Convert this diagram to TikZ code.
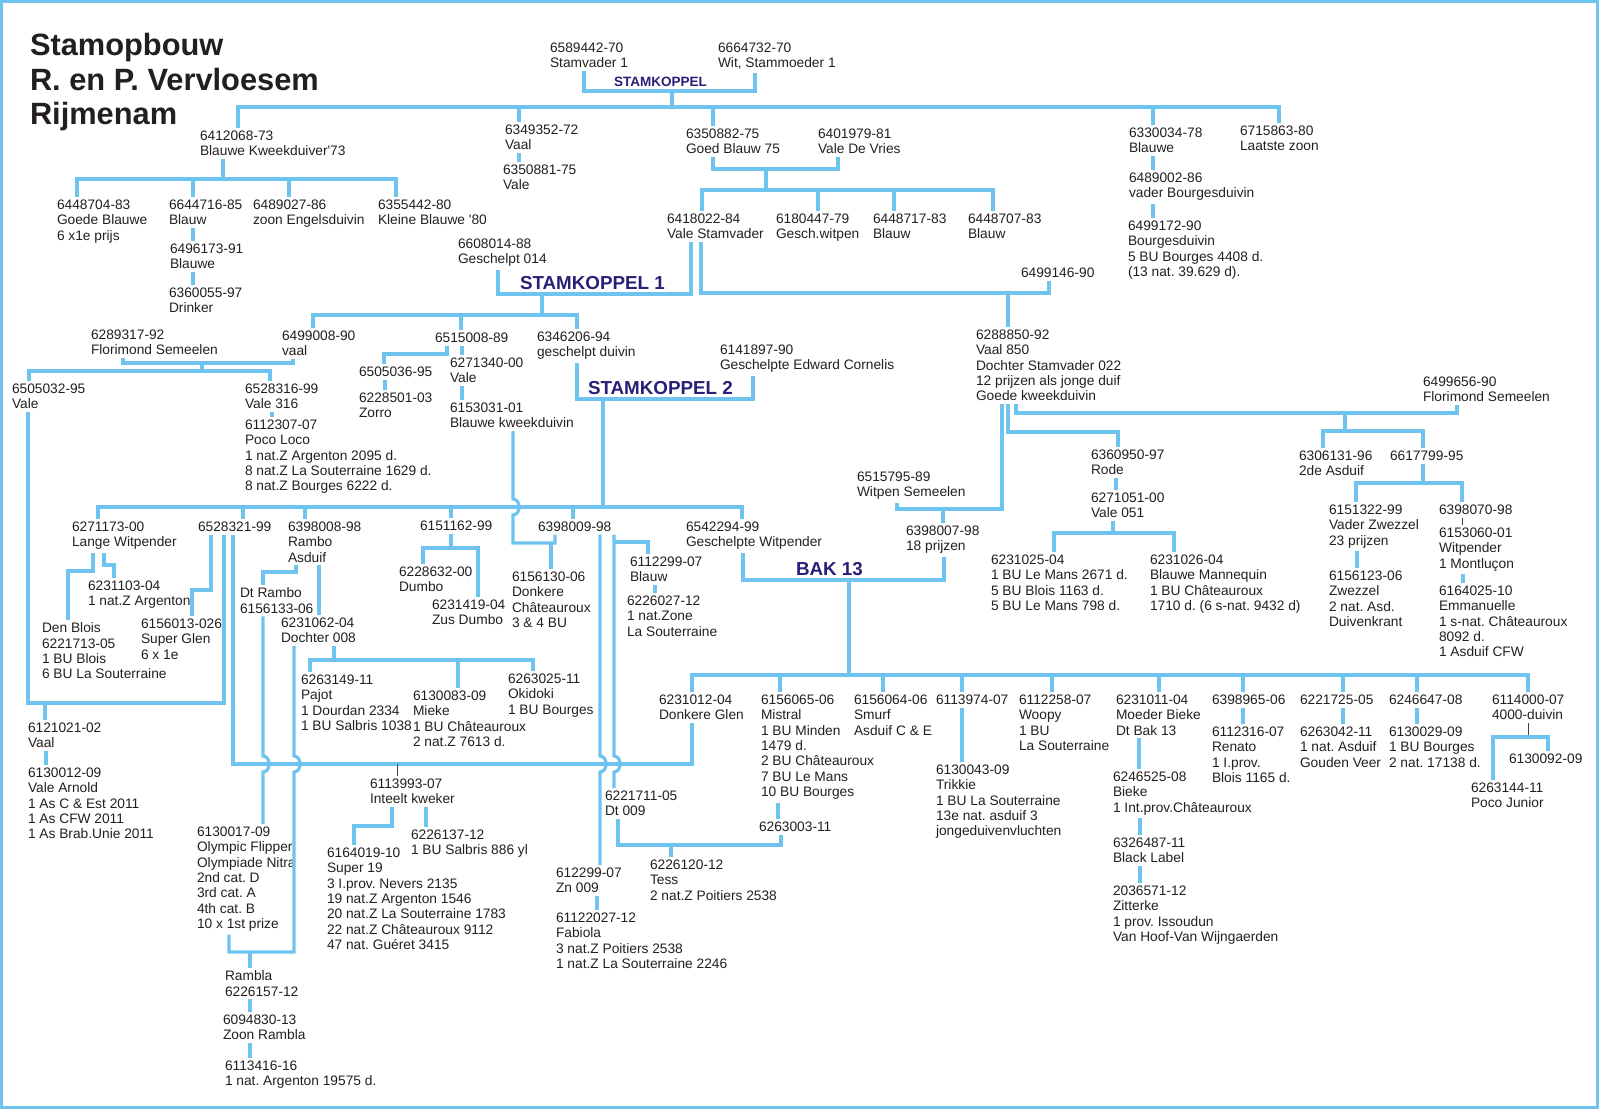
\documentclass[tikz,border=0pt]{standalone}
\usepackage{fontspec}
\setmainfont{Liberation Sans}
\frenchspacing

\definecolor{pedblue}{RGB}{110,196,238}
\definecolor{koppelblue}{RGB}{40,32,120}
\definecolor{inkgray}{RGB}{35,31,32}

\newcommand{\dvfont}{\fontsize{6.875pt}{7.67pt}\selectfont}
\newcommand{\titelfont}{\fontsize{15.4pt}{17.35pt}\selectfont\bfseries}
\newcommand{\koppelfont}{\fontsize{9.4pt}{11pt}\selectfont\bfseries}
\newcommand{\kleinkoppelfont}{\fontsize{6.75pt}{8pt}\selectfont\bfseries}

\begin{document}
\begin{tikzpicture}[
    x=0.5pt, y=-0.5pt,
    dv/.style={anchor=north west, inner sep=0pt, outer xsep=0pt, outer ysep=1.5pt, align=left, font=\dvfont, text=inkgray},
    titel/.style={anchor=north west, inner sep=0pt, outer sep=0pt, align=left, font=\titelfont, text=inkgray},
    koppel/.style={anchor=north west, inner sep=0pt, outer sep=0pt, font=\koppelfont, text=koppelblue},
    ln/.style={draw=pedblue, line width=1.6pt},
    tick/.style={draw=inkgray!85, line width=0.5pt}
]
\useasboundingbox (0,0) rectangle (1600,1109);
\draw[ln, line width=1.6pt] (1.5,1.5) rectangle (1597.5,1107.5);

% Title
\node[titel] (titel) at (30,33) {Stamopbouw\\R. en P. Vervloesem\\Rijmenam};

% Stamkoppel
\node[dv] (sv1) at (550,40) {6589442-70\\Stamvader 1};
\node[dv] (sm1) at (718,40) {6664732-70\\Wit, Stammoeder 1};
\node[koppel, font=\kleinkoppelfont] (sk0) at (614,77) {STAMKOPPEL};

% Children of the stamkoppel
\node[dv] (a1) at (200,128) {6412068-73\\Blauwe Kweekduiver\textquotesingle 73};
\node[dv] (b1) at (505,122) {6349352-72\\Vaal};
\node[dv] (b2) at (503,162) {6350881-75\\Vale};
\node[dv] (c1) at (686,126) {6350882-75\\Goed Blauw 75};
\node[dv] (c2) at (818,126) {6401979-81\\Vale De Vries};
\node[dv] (d1) at (1129,125) {6330034-78\\Blauwe};
\node[dv] (d2) at (1129,170) {6489002-86\\vader Bourgesduivin};
\node[dv] (d3) at (1128,218) {6499172-90\\Bourgesduivin\\5 BU Bourges 4408 d.\\(13 nat. 39.629 d).};
\node[dv] (e1) at (1240,123) {6715863-80\\Laatste zoon};

% Line of 6412068-73
\node[dv] (a11) at (57,197) {6448704-83\\Goede Blauwe\\6 x1e prijs};
\node[dv] (a12) at (169,197) {6644716-85\\Blauw};
\node[dv] (a121) at (170,241) {6496173-91\\Blauwe};
\node[dv] (a122) at (169,285) {6360055-97\\Drinker};
\node[dv] (a13) at (253,197) {6489027-86\\zoon Engelsduivin};
\node[dv] (a14) at (378,197) {6355442-80\\Kleine Blauwe \textquotesingle 80};

% Line of 6350882-75 x 6401979-81
\node[dv] (c11) at (667,211) {6418022-84\\Vale Stamvader};
\node[dv] (c12) at (776,211) {6180447-79\\Gesch.witpen};
\node[dv] (c13) at (873,211) {6448717-83\\Blauw};
\node[dv] (c14) at (968,211) {6448707-83\\Blauw};

% Stamkoppel 1 and 6499146-90
\node[dv] (g1) at (458,236) {6608014-88\\Geschelpt 014};
\node[koppel] (sk1) at (520,276) {STAMKOPPEL 1};
\node[dv] (h1) at (1021,265) {6499146-90};
\node[dv] (h2) at (976,327) {6288850-92\\Vaal 850\\Dochter Stamvader 022\\12 prijzen als jonge duif\\Goede kweekduivin};

% Children of stamkoppel 1
\node[dv] (i1) at (91,327) {6289317-92\\Florimond Semeelen};
\node[dv] (i2) at (282,328) {6499008-90\\vaal};
\node[dv] (i3) at (435,330) {6515008-89};
\node[dv] (i4) at (537,329) {6346206-94\\geschelpt duivin};
\node[dv] (i31) at (359,364) {6505036-95};
\node[dv] (i311) at (359,390) {6228501-03\\Zorro};
\node[dv] (i32) at (450,355) {6271340-00\\Vale};
\node[dv] (i321) at (450,400) {6153031-01\\Blauwe kweekduivin};
\node[dv] (j1) at (720,342) {6141897-90\\Geschelpte Edward Cornelis};
\node[koppel] (sk2) at (588,381) {STAMKOPPEL 2};

\node[dv] (k1) at (12,381) {6505032-95\\Vale};
\node[dv] (k2) at (245,381) {6528316-99\\Vale 316};
\node[dv] (k21) at (245,417) {6112307-07\\Poco Loco\\1 nat.Z Argenton 2095 d.\\8 nat.Z La Souterraine 1629 d.\\8 nat.Z Bourges 6222 d.};

% Children of stamkoppel 2
\node[dv] (m1) at (72,519) {6271173-00\\Lange Witpender};
\node[dv] (m2) at (198,519) {6528321-99};
\node[dv] (m3) at (288,519) {6398008-98\\Rambo\\Asduif};
\node[dv] (m4) at (420,518) {6151162-99};
\node[dv] (m5) at (538,519) {6398009-98};
\node[dv] (m6) at (686,519) {6542294-99\\Geschelpte Witpender};
\node[dv] (m11) at (88,578) {6231103-04\\1 nat.Z Argenton};
\node[dv] (m12) at (42,620) {Den Blois\\6221713-05\\1 BU Blois\\6 BU La Souterraine};
\node[dv] (m21) at (141,616) {6156013-026\\Super Glen\\6 x 1e};
\node[dv] (m31) at (240,585) {Dt Rambo\\6156133-06};
\node[dv] (m32) at (281,615) {6231062-04\\Dochter 008};
\node[dv] (m321) at (301,672) {6263149-11\\Pajot\\1 Dourdan 2334\\1 BU Salbris 1038};
\node[dv] (m322) at (413,688) {6130083-09\\Mieke\\1 BU Châteauroux\\2 nat.Z 7613 d.};
\node[dv] (m323) at (508,671) {6263025-11\\Okidoki\\1 BU Bourges};
\node[dv] (m41) at (399,564) {6228632-00\\Dumbo};
\node[dv] (m42) at (432,597) {6231419-04\\Zus Dumbo};
\node[dv] (m51) at (512,569) {6156130-06\\Donkere\\Châteauroux\\3 \& 4 BU};
\node[dv] (m52) at (630,554) {6112299-07\\Blauw};
\node[dv] (m521) at (627,593) {6226027-12\\1 nat.Zone\\La Souterraine};

% Bak 13
\node[dv] (p1) at (857,469) {6515795-89\\Witpen Semeelen};
\node[dv] (p2) at (906,523) {6398007-98\\18 prijzen};
\node[koppel] (bak) at (796,562) {BAK 13};

\node[dv] (q1) at (1091,447) {6360950-97\\Rode};
\node[dv] (q2) at (1091,490) {6271051-00\\Vale 051};
\node[dv] (q21) at (991,552) {6231025-04\\1 BU Le Mans 2671 d.\\5 BU Blois 1163 d.\\5 BU Le Mans 798 d.};
\node[dv] (q22) at (1150,552) {6231026-04\\Blauwe Mannequin\\1 BU Châteauroux\\1710 d. (6 s-nat. 9432 d)};

\node[dv] (r1) at (1423,374) {6499656-90\\Florimond Semeelen};
\node[dv] (r2) at (1299,448) {6306131-96\\2de Asduif};
\node[dv] (r3) at (1390,448) {6617799-95};
\node[dv] (r31) at (1329,502) {6151322-99\\Vader Zwezzel\\23 prijzen};
\node[dv] (r311) at (1329,568) {6156123-06\\Zwezzel\\2 nat. Asd.\\Duivenkrant};
\node[dv] (r32) at (1439,502) {6398070-98};
\node[dv] (r321) at (1439,525) {6153060-01\\Witpender\\1 Montluçon};
\node[dv] (r322) at (1439,583) {6164025-10\\Emmanuelle\\1 s-nat. Châteauroux\\8092 d.\\1 Asduif CFW};

% Children of bak 13
\node[dv] (s1) at (659,692) {6231012-04\\Donkere Glen};
\node[dv] (s2) at (761,692) {6156065-06\\Mistral\\1 BU Minden\\1479 d.\\2 BU Châteauroux\\7 BU Le Mans\\10 BU Bourges};
\node[dv] (s3) at (854,692) {6156064-06\\Smurf\\Asduif C \& E};
\node[dv] (s4) at (936,692) {6113974-07};
\node[dv] (s41) at (936,762) {6130043-09\\Trikkie\\1 BU La Souterraine\\13e nat. asduif 3\\jongeduivenvluchten};
\node[dv] (s5) at (1019,692) {6112258-07\\Woopy\\1 BU\\La Souterraine};
\node[dv] (s6) at (1116,692) {6231011-04\\Moeder Bieke\\Dt Bak 13};
\node[dv] (s61) at (1113,769) {6246525-08\\Bieke\\1 Int.prov.Châteauroux};
\node[dv] (s62) at (1113,835) {6326487-11\\Black Label};
\node[dv] (s63) at (1113,883) {2036571-12\\Zitterke\\1 prov. Issoudun\\Van Hoof-Van Wijngaerden};
\node[dv] (s7) at (1212,692) {6398965-06};
\node[dv] (s71) at (1212,724) {6112316-07\\Renato\\1 I.prov.\\Blois 1165 d.};
\node[dv] (s8) at (1300,692) {6221725-05};
\node[dv] (s81) at (1300,724) {6263042-11\\1 nat. Asduif\\Gouden Veer};
\node[dv] (s9) at (1389,692) {6246647-08};
\node[dv] (s91) at (1389,724) {6130029-09\\1 BU Bourges\\2 nat. 17138 d.};
\node[dv] (s10) at (1492,692) {6114000-07\\4000-duivin};
\node[dv] (s101) at (1509,751) {6130092-09};
\node[dv] (s102) at (1471,780) {6263144-11\\Poco Junior};
\node[dv] (s21) at (759,819) {6263003-11};

% Lower generations
\node[dv] (t1) at (28,720) {6121021-02\\Vaal};
\node[dv] (t11) at (28,765) {6130012-09\\Vale Arnold\\1 As C \& Est 2011\\1 As CFW 2011\\1 As Brab.Unie 2011};
\node[dv] (u1) at (370,776) {6113993-07\\Inteelt kweker};
\node[dv] (u11) at (411,827) {6226137-12\\1 BU Salbris 886 yl};
\node[dv] (u12) at (327,845) {6164019-10\\Super 19\\3 I.prov. Nevers 2135\\19 nat.Z Argenton 1546\\20 nat.Z La Souterraine 1783\\22 nat.Z Châteauroux 9112\\47 nat. Guéret 3415};
\node[dv] (v1) at (197,824) {6130017-09\\Olympic Flipper\\Olympiade Nitra\\2nd cat. D\\3rd cat. A\\4th cat. B\\10 x 1st prize};
\node[dv] (v2) at (225,968) {Rambla\\6226157-12};
\node[dv] (v21) at (223,1012) {6094830-13\\Zoon Rambla};
\node[dv] (v22) at (225,1058) {6113416-16\\1 nat. Argenton 19575 d.};
\node[dv] (w1) at (605,788) {6221711-05\\Dt 009};
\node[dv] (w2) at (556,865) {612299-07\\Zn 009};
\node[dv] (w21) at (556,910) {61122027-12\\Fabiola\\3 nat.Z Poitiers 2538\\1 nat.Z La Souterraine 2246};
\node[dv] (w3) at (650,857) {6226120-12\\Tess\\2 nat.Z Poitiers 2538};

% Stamkoppel lines
\draw[ln] (584,0 |- sv1.south) -- (584,91) -- (755,91) -- (755,0 |- sm1.south);
\draw[ln] (672,91) -- (672,107);
\draw[ln] (238,0 |- a1.north) -- (238,107) -- (1279,107) -- (1279,0 |- e1.north);
\draw[ln] (519,107) -- (519,0 |- b1.north) (713,107) -- (713,0 |- c1.north) (1153,107) -- (1153,0 |- d1.north);
\draw[ln] (519,0 |- b1.south) -- (519,0 |- b2.north);
\draw[ln] (1153,0 |- d1.south) -- (1153,0 |- d2.north) (1153,0 |- d2.south) -- (1153,0 |- d3.north);

% 6412068-73
\draw[ln] (223,0 |- a1.south) -- (223,179);
\draw[ln] (77,0 |- a11.north) -- (77,179) -- (396,179) -- (396,0 |- a14.north);
\draw[ln] (193,179) -- (193,0 |- a12.north) (289,179) -- (289,0 |- a13.north);
\draw[ln] (193,0 |- a12.south) -- (193,0 |- a121.north) (193,0 |- a121.south) -- (193,0 |- a122.north);

% 6350882-75 x 6401979-81
\draw[ln] (713,0 |- c1.south) -- (713,169) -- (838,169) -- (838,0 |- c2.south);
\draw[ln] (766,169) -- (766,190);
\draw[ln] (702,0 |- c11.north) -- (702,190) -- (993,190) -- (993,0 |- c14.north);
\draw[ln] (818,190) -- (818,0 |- c12.north) (894,190) -- (894,0 |- c13.north);

% Stamkoppel 1
\draw[ln] (498,0 |- g1.south) -- (498,294) -- (691,294) -- (691,0 |- c11.south);
\draw[ln] (542,294) -- (542,315);
\draw[ln] (313,0 |- i2.north) -- (313,315) -- (577,315) -- (577,0 |- i4.north);
\draw[ln] (461,315) -- (461,0 |- i3.north);

% 6418022-84 x 6499146-90
\draw[ln] (701,0 |- c11.south) -- (701,293) -- (1049,293) -- (1049,0 |- h1.south);
\draw[ln] (1008,293) -- (1008,0 |- h2.north);

% 6289317-92 x 6499008-90
\draw[ln] (123,0 |- i1.south) -- (123,363) -- (293,363) -- (293,0 |- i2.south);
\draw[ln] (202,363) -- (202,371);
\draw[ln] (29,0 |- k1.north) -- (29,371) -- (270,371) -- (270,0 |- k2.north);
\draw[ln] (272,0 |- k2.south) -- (272,0 |- k21.north);

% 6515008-89
\draw[ln] (447,0 |- i3.south) -- (447,354) -- (384,354) -- (384,0 |- i31.north);
\draw[ln] (385,0 |- i31.south) -- (385,0 |- i311.north);
\draw[ln] (462,0 |- i3.south) -- (462,0 |- i32.north) (462,0 |- i32.south) -- (462,0 |- i321.north);

% Stamkoppel 2
\draw[ln] (577,0 |- i4.south) -- (577,399) -- (753,399) -- (753,0 |- j1.south);
\draw[ln] (603,399) -- (603,507);
\draw[ln] (98,0 |- m1.north) -- (98,507) -- (742,507) -- (742,0 |- m6.north);
\draw[ln] (243,507) -- (243,0 |- m2.north) (305,507) -- (305,0 |- m3.north) (451,507) -- (451,0 |- m4.north) (573,507) -- (573,0 |- m5.north);

% 6153031-01 x 6398009-98
\draw[ln] (513,0 |- i321.south) -- (513,499) .. controls (521,499) and (521,515) .. (513,515) -- (513,543) -- (555,543) -- (555,0 |- m5.south);
\draw[ln] (551,543) -- (551,0 |- m51.north);

% 6151162-99
\draw[ln] (451,0 |- m4.south) -- (451,548);
\draw[ln] (423,0 |- m41.north) -- (423,548) -- (478,548) -- (478,0 |- m42.north);

% 6271173-00
\draw[ln] (93,0 |- m1.south) -- (93,571) -- (68,571) -- (68,0 |- m12.north);
\draw[ln] (104,0 |- m1.south) -- (104,565) -- (114,565) -- (114,0 |- m11.north);

% 6528321-99
\draw[ln] (211,0 |- m2.south) -- (211,590) -- (192,590) -- (192,0 |- m21.north);
\draw[ln] (28,0 |- k1.south) -- (28,703) -- (224,703) -- (224,0 |- m2.south);
\draw[ln] (45,703) -- (45,0 |- t1.north);
\draw[ln] (46,0 |- t1.south) -- (46,0 |- t11.north);
\draw[ln] (233,0 |- m2.south) -- (233,764) -- (692,764) -- (692,0 |- s1.south);
\draw[tick] (397,764) -- (397,0 |- u1.north);
\draw[ln] (392,0 |- u1.south) -- (392,826) -- (354,826) -- (354,0 |- u12.north);
\draw[ln] (426,0 |- u1.south) -- (426,0 |- u11.north);

% 6398008-98
\draw[ln] (296,0 |- m3.south) -- (296,572) -- (263,572) -- (263,0 |- m31.north);
\draw[ln] (319,0 |- m3.south) -- (319,0 |- m32.north);
\draw[ln] (263,0 |- m31.south) -- (263,756) .. controls (271,756) and (271,772) .. (263,772) -- (263,0 |- v1.north);
\draw[ln] (294,0 |- m32.south) -- (294,756) .. controls (302,756) and (302,772) .. (294,772) -- (294,952) -- (229,952) -- (229,0 |- v1.south);
\draw[ln] (250,952) -- (250,0 |- v2.north);
\draw[ln] (250,0 |- v2.south) -- (250,0 |- v21.north) (250,0 |- v21.south) -- (250,0 |- v22.north);

% 6231062-04
\draw[ln] (334,0 |- m32.south) -- (334,660);
\draw[ln] (310,0 |- m321.north) -- (310,660) -- (533,660) -- (533,0 |- m323.north);
\draw[ln] (458,660) -- (458,0 |- m322.north);

% 6398009-98
\draw[ln] (600,0 |- m5.south) -- (600,756) .. controls (608,756) and (608,772) .. (600,772) -- (600,0 |- w2.north);
\draw[ln] (614,0 |- m5.south) -- (614,756) .. controls (622,756) and (622,772) .. (614,772) -- (614,0 |- w1.north);
\draw[ln] (614,542) -- (648,542) -- (648,0 |- m52.north);
\draw[ln] (655,0 |- m52.south) -- (655,0 |- m521.north);
\draw[ln] (597,0 |- w2.south) -- (597,0 |- w21.north);

% Bak 13
\draw[ln] (743,0 |- m6.south) -- (743,580) -- (944,580) -- (944,0 |- p2.south);
\draw[ln] (849,580) -- (849,675);
\draw[ln] (692,0 |- s1.north) -- (692,675) -- (1528,675) -- (1528,0 |- s10.north);
\draw[ln] (780,675) -- (780,0 |- s2.north) (883,675) -- (883,0 |- s3.north) (962,675) -- (962,0 |- s4.north) (1052,675) -- (1052,0 |- s5.north) (1159,675) -- (1159,0 |- s6.north) (1243,675) -- (1243,0 |- s7.north) (1343,675) -- (1343,0 |- s8.north) (1417,675) -- (1417,0 |- s9.north);
\draw[ln] (962,0 |- s4.south) -- (962,0 |- s41.north);
\draw[ln] (778,0 |- s2.south) -- (778,0 |- s21.north);
\draw[ln] (1139,0 |- s6.south) -- (1139,0 |- s61.north) (1140,0 |- s61.south) -- (1140,0 |- s62.north) (1140,0 |- s62.south) -- (1140,0 |- s63.north);
\draw[ln] (1243,0 |- s7.south) -- (1243,0 |- s71.north) (1343,0 |- s8.south) -- (1343,0 |- s81.north) (1417,0 |- s9.south) -- (1417,0 |- s91.north);
\draw[tick] (1528,0 |- s10.south) -- (1528,737);
\draw[ln] (1493,0 |- s102.north) -- (1493,737) -- (1548,737) -- (1548,0 |- s101.north);

% 6263003-11 x 6221711-05
\draw[ln] (781,0 |- s21.south) -- (781,845) -- (618,845) -- (618,0 |- w1.south);
\draw[ln] (671,845) -- (671,0 |- w3.north);

% 6288850-92
\draw[ln] (1002,0 |- h2.south) -- (1002,509) -- (897,509) -- (897,0 |- p1.south);
\draw[ln] (943,509) -- (943,0 |- p2.north);
\draw[ln] (1008,0 |- h2.south) -- (1008,432) -- (1118,432) -- (1118,0 |- q1.north);
\draw[ln] (1116,0 |- q1.south) -- (1116,0 |- q2.north);
\draw[ln] (1113,0 |- q2.south) -- (1113,533);
\draw[ln] (1054,0 |- q21.north) -- (1054,533) -- (1174,533) -- (1174,0 |- q22.north);
\draw[ln] (1016,0 |- h2.south) -- (1016,413) -- (1457,413) -- (1457,0 |- r1.south);
\draw[ln] (1345,413) -- (1345,431);
\draw[ln] (1323,0 |- r2.north) -- (1323,431) -- (1423,431) -- (1423,0 |- r3.north);
\draw[ln] (1423,0 |- r3.south) -- (1423,483);
\draw[ln] (1356,0 |- r31.north) -- (1356,483) -- (1462,483) -- (1462,0 |- r32.north);
\draw[ln] (1357,0 |- r31.south) -- (1357,0 |- r311.north);
\draw[tick] (1462,0 |- r32.south) -- (1462,0 |- r321.north);
\draw[ln] (1463,0 |- r321.south) -- (1463,0 |- r322.north);
\end{tikzpicture}
\end{document}
